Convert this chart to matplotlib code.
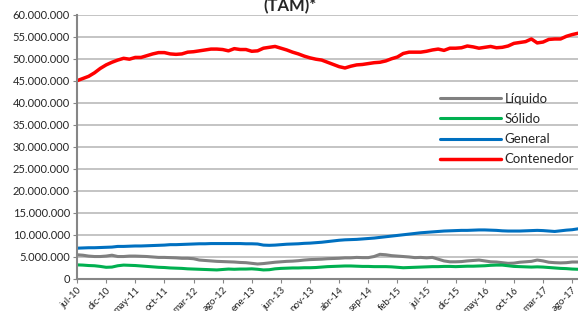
import matplotlib
matplotlib.use("Agg")
import matplotlib.pyplot as plt
from matplotlib.ticker import FuncFormatter, MultipleLocator

plt.rcParams['font.family'] = ['Lato', 'DejaVu Sans']

tick_labels = ["jul-10", "dic-10", "may-11", "oct-11", "mar-12", "ago-12", "ene-13",
               "jun-13", "nov-13", "abr-14", "sep-14", "feb-15", "jul-15", "dic-15",
               "may-16", "oct-16", "mar-17", "ago-17"]

# millions of tonnes, monthly from jul-10 to sep-17
liquido = [5.4, 5.3, 5.1, 5.0, 5.0, 5.1, 5.3, 5.0, 5.0, 5.1, 5.1, 5.05, 5.0, 4.9, 4.8, 4.8,
           4.75, 4.7, 4.6, 4.6, 4.5, 4.2, 4.1, 4.0, 3.9, 3.85, 3.8, 3.75, 3.65, 3.6, 3.45, 3.3,
           3.4, 3.55, 3.7, 3.8, 3.9, 3.95, 4.05, 4.2, 4.3, 4.35, 4.4, 4.5, 4.55, 4.6, 4.7, 4.7,
           4.8, 4.75, 4.75, 5.0, 5.5, 5.4, 5.2, 5.1, 5.0, 4.9, 4.75, 4.8, 4.7, 4.8, 4.4, 4.0,
           3.8, 3.8, 3.85, 4.0, 4.1, 4.2, 4.0, 3.8, 3.75, 3.6, 3.45, 3.5, 3.7, 3.8, 3.9, 4.2,
           4.0, 3.7, 3.6, 3.55, 3.6, 3.75, 3.75]
solido = [3.1, 3.05, 2.95, 2.9, 2.75, 2.55, 2.6, 2.9, 3.05, 3.0, 2.95, 2.85, 2.75, 2.65, 2.55,
          2.5, 2.4, 2.35, 2.3, 2.2, 2.15, 2.1, 2.05, 2.0, 1.95, 2.05, 2.15, 2.1, 2.15, 2.15,
          2.2, 2.1, 1.95, 2.0, 2.2, 2.3, 2.35, 2.4, 2.4, 2.45, 2.45, 2.5, 2.6, 2.7, 2.75, 2.8,
          2.85, 2.85, 2.8, 2.75, 2.75, 2.7, 2.7, 2.7, 2.65, 2.55, 2.45, 2.5, 2.55, 2.6, 2.65,
          2.7, 2.7, 2.75, 2.75, 2.7, 2.75, 2.8, 2.8, 2.85, 2.9, 3.0, 3.05, 3.05, 2.9, 2.75,
          2.7, 2.65, 2.6, 2.65, 2.6, 2.5, 2.4, 2.3, 2.25, 2.15, 2.1]
general = [6.9, 6.95, 7.0, 7.0, 7.05, 7.1, 7.15, 7.3, 7.3, 7.35, 7.4, 7.4, 7.45, 7.5, 7.55,
           7.6, 7.7, 7.7, 7.75, 7.8, 7.85, 7.9, 7.9, 7.95, 7.95, 7.95, 7.95, 7.95, 7.95, 7.9,
           7.9, 7.85, 7.6, 7.55, 7.6, 7.7, 7.8, 7.85, 7.9, 8.0, 8.05, 8.15, 8.25, 8.4, 8.55,
           8.7, 8.8, 8.85, 8.9, 9.0, 9.1, 9.2, 9.35, 9.5, 9.65, 9.8, 9.95, 10.1, 10.25, 10.4,
           10.5, 10.6, 10.7, 10.8, 10.85, 10.9, 10.95, 10.95, 11.0, 11.05, 11.05, 11.0, 10.95,
           10.85, 10.8, 10.8, 10.8, 10.85, 10.9, 10.95, 10.9, 10.8, 10.7, 10.85, 11.0, 11.1, 11.3]
contenedor = [45.0, 45.5, 46.0, 46.8, 47.8, 48.6, 49.2, 49.7, 50.1, 49.9, 50.3, 50.3, 50.7,
              51.1, 51.4, 51.4, 51.1, 51.0, 51.1, 51.5, 51.6, 51.8, 52.0, 52.2, 52.2, 52.1,
              51.8, 52.3, 52.1, 52.1, 51.7, 51.8, 52.4, 52.6, 52.8, 52.4, 52.0, 51.5, 51.1,
              50.6, 50.2, 49.9, 49.7, 49.2, 48.7, 48.2, 47.9, 48.3, 48.6, 48.7, 48.9, 49.1,
              49.2, 49.5, 50.0, 50.4, 51.2, 51.5, 51.5, 51.5, 51.7, 52.0, 52.2, 51.9, 52.4,
              52.4, 52.5, 52.9, 52.7, 52.4, 52.6, 52.8, 52.5, 52.6, 52.9, 53.5, 53.7, 53.9,
              54.5, 53.6, 53.8, 54.4, 54.5, 54.5, 55.1, 55.5, 55.8]

series = [("Líquido", liquido, "#808080"),
          ("Sólido", solido, "#00B050"),
          ("General", general, "#0070C0"),
          ("Contenedor", contenedor, "#FF0000")]

fig = plt.figure(figsize=(5.78, 3.11), dpi=100)
ax = fig.add_axes([77 / 578, 32.5 / 311, 501 / 578, 263.7 / 311])

x = list(range(len(contenedor)))
for name, vals, col in series:
    lw = 2.5 if name == "Contenedor" else 2.2
    ax.plot(x, [v * 1e6 for v in vals], color=col, lw=lw, label=name,
            solid_capstyle='round', solid_joinstyle='round')

ax.set_xlim(0, len(x) - 1)
ax.set_ylim(0, 60e6)
ax.yaxis.set_major_locator(MultipleLocator(5e6))
ax.yaxis.set_major_formatter(FuncFormatter(lambda v, p: f"{int(round(v)):,}".replace(",", ".")))
ax.grid(axis='y', color='#BFBFBF', lw=1.3)
ax.set_axisbelow(True)

ax.set_xticks(range(0, len(x), 5)[:len(tick_labels)])
ax.set_xticklabels(tick_labels, rotation=45, ha='right', rotation_mode='anchor')

for s in ['top', 'right']:
    ax.spines[s].set_visible(False)
for s in ['left', 'bottom']:
    ax.spines[s].set_color('#868686')
    ax.spines[s].set_linewidth(1.5)
ax.tick_params(axis='y', length=3, color='#868686', labelsize=8, labelcolor='#262626', pad=2)
ax.tick_params(axis='x', length=3, color='#868686', labelsize=7, labelcolor='#262626', pad=2)

leg = ax.legend(loc='upper left', bbox_to_anchor=(363 / 501, 1 - 78 / 263.7), frameon=False,
                fontsize=9.5, handlelength=4.6, handletextpad=0.3, labelspacing=0.62,
                borderaxespad=0, borderpad=0)
for t in leg.get_texts():
    t.set_color('#262626')

fig.text(289.5 / 578, 1 - 11 / 311, "(TAM)*", ha='center', va='baseline',
         fontsize=12, fontweight='bold', color='#262626')

fig.savefig("out.png", dpi=100)
